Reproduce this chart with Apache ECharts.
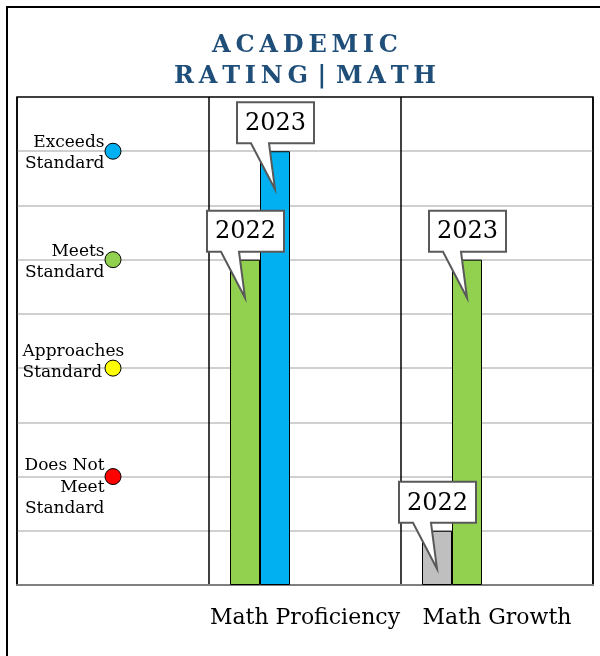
<!DOCTYPE html>
<html>
<head>
<meta charset="utf-8">
<script src="https://cdn.jsdelivr.net/npm/echarts@6/dist/echarts.min.js"></script>
<style>
html,body{margin:0;padding:0;background:#fff;}
#chart{width:600px;height:656px;}
</style>
</head>
<body>
<div id="chart"></div>
<script>
// ---- data ----
const categories = ['', 'Math Proficiency', 'Math Growth'];
const years = ['2022', '2023'];
const values2022 = [null, 6, 1];
const values2023 = [null, 8, 6];
const levelNames = ['Exceeds\nStandard', 'Meets\nStandard', 'Approaches\nStandard', 'Does Not\nMeet\nStandard'];
const levelValues = [8, 6, 4, 2];
const yMin = 0, yMax = 9, yStep = 1;
const titleLines = ['ACADEMIC', 'RATING | MATH'];

// ---- styles ----
const SERIF = '"DejaVu Serif", "Liberation Serif", serif';
const colors2022 = [null, '#92d050', '#bfbfbf'];
const colors2023 = [null, '#00b0f0', '#92d050'];
const levelColors = ['#00b0f0', '#92d050', '#ffff00', '#ff0000'];
const levelLabelDy = [2, 2.5, -6, 11];
const BAR_W = 30;
const BAR_OFFSETS = [-60, -30]; // 5 slots of 30px centred on the category
const THIN = '\u2009';
const spaced = s => s.split('').filter(c => c !== ' ').join(THIN)
  .replace(THIN + '|' + THIN, THIN + THIN + '|' + THIN + THIN);

const chart = echarts.init(document.getElementById('chart'), null, {renderer: 'canvas'});

const barSeries = (vals, cols) => ({
  type: 'bar',
  barWidth: BAR_W,
  barGap: '0%',
  z: 3,
  data: vals.map((v, i) => v == null ? null : {value: v, itemStyle: {color: cols[i]}}),
  itemStyle: {borderColor: '#000', borderWidth: 1}
});
const placeholder = () => ({type: 'bar', barWidth: BAR_W, barGap: '0%', data: categories.map(() => null)});

const callouts = [];
[values2022, values2023].forEach((vals, k) => {
  vals.forEach((v, i) => { if (v != null) callouts.push([i, v, k]); });
});

const levelLabelBase = {
  show: true, formatter: p => p.name,
  fontFamily: SERIF, fontSize: 17, lineHeight: 21.5, color: '#000', opacity: 1,
  textBorderWidth: 0
};

const option = {
  animation: false,
  backgroundColor: '#fff',
  graphic: [{
    type: 'rect', z: 100,
    shape: {x: 7, y: 7, width: 700, height: 700},
    style: {fill: 'none', stroke: '#000', lineWidth: 2}
  }],
  title: {
    text: titleLines.map(spaced).join('\n'),
    left: 305, top: 30, textAlign: 'center', padding: 0,
    textStyle: {fontFamily: SERIF, fontWeight: 'bold', fontSize: 24, color: '#1f4e79', lineHeight: 31}
  },
  grid: {left: 17, right: 7, top: 97, bottom: 71, show: true, borderColor: '#000', borderWidth: 1.5, containLabel: false},
  xAxis: {
    type: 'category', data: categories,
    axisLine: {show: true, lineStyle: {color: '#808080', width: 2}},
    axisTick: {show: false},
    axisLabel: {interval: 0, fontFamily: SERIF, fontSize: 22, color: '#000', margin: 22},
    splitLine: {show: true, interval: 0, lineStyle: {color: '#000', width: 1.5}}
  },
  yAxis: {
    type: 'value', min: yMin, max: yMax, interval: yStep,
    axisLine: {show: false}, axisTick: {show: false}, axisLabel: {show: false},
    splitLine: {show: true, showMinLine: false, showMaxLine: false, lineStyle: {color: '#c0c0c0', width: 1.5}}
  },
  series: [
    barSeries(values2022, colors2022),
    barSeries(values2023, colors2023),
    placeholder(), placeholder(), placeholder(),
    {
      type: 'scatter', z: 5,
      symbolSize: 16,
      data: levelValues.map((v, i) => ({
        value: [0, v], name: levelNames[i], itemStyle: {color: levelColors[i], opacity: 1},
        label: i === 2
          ? Object.assign({}, levelLabelBase, {position: [-82, '50%'], align: 'left', verticalAlign: 'middle', offset: [0, levelLabelDy[i]]})
          : Object.assign({}, levelLabelBase, {position: 'left', distance: 0, align: 'right', offset: [0, levelLabelDy[i]]})
      })),
      itemStyle: {borderColor: '#000', borderWidth: 1},
      label: Object.assign({}, levelLabelBase, {position: 'left', distance: 0, align: 'right'})
    },
    {
      type: 'custom', z: 10, clip: false,
      data: callouts,
      renderItem: (params, api) => {
        const cat = api.value(0), v = api.value(1), k = api.value(2);
        const p = api.coord([cat, v]);
        const cx = p[0] + BAR_OFFSETS[k];
        const top = p[1];
        const L = cx - 38, R = cx + 39, T = top - 49, B = top - 8;
        return {
          type: 'group',
          children: [{
            type: 'polygon',
            shape: {points: [[L, T], [R, T], [R, B], [cx - 6, B], [cx, top + 38], [cx - 24, B], [L, B]]},
            style: {fill: '#fff', stroke: '#595959', lineWidth: 2}
          }, {
            type: 'text',
            x: (L + R) / 2, y: (T + B) / 2 + 1,
            style: {text: years[k], fontFamily: SERIF, fontSize: 24, fill: '#000', align: 'center', verticalAlign: 'middle'}
          }]
        };
      }
    }
  ]
};
chart.setOption(option);
</script>
</body>
</html>
